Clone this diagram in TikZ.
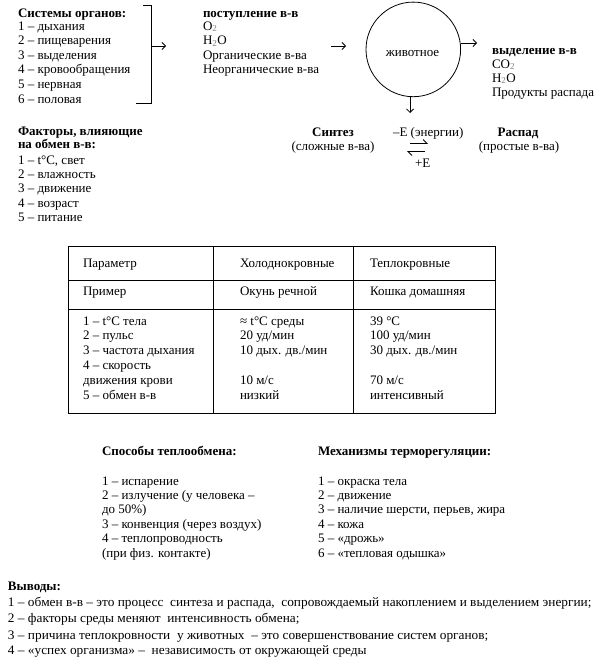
\documentclass[tikz,border=0pt]{standalone}
\usepackage{fontspec}
\setmainfont{Liberation Serif}
\newfontfamily\widef[FakeStretch=1.025]{Liberation Serif}
\usetikzlibrary{arrows.meta}
\begin{document}
\begin{tikzpicture}[x=1pt,y=-1pt,
  every node/.style={inner sep=0pt, outer sep=0pt, font=\fontsize{13}{15}\selectfont},
  txt/.style={anchor=base west},
  wtxt/.style={anchor=base west, font=\fontsize{13}{15}\widef},
  hd/.style={anchor=base west, font=\fontsize{13}{15}\selectfont\bfseries},
  hdc/.style={anchor=base, font=\fontsize{13}{15}\selectfont\bfseries},
  ctr/.style={anchor=base},
  ln/.style={line width=0.8pt},
  arr/.style={line width=0.8pt, -{Straight Barb[length=3.5pt,width=7pt]}},
  harp/.style={line width=0.8pt, -{Straight Barb[left,length=4pt,width=8pt]}}
]
\useasboundingbox (0,0) rectangle (607,664);
\newcommand{\sbs}[1]{\textsubscript{\color{gray}#1}}
% Block A
\node[hd] (sys) at (18,17) {Системы органов:};
\foreach \t [count=\i from 0] in {1 – дыхания, 2 – пищеварения, 3 – выделения, 4 – кровообращения, 5 – нервная, 6 – половая}
  \node[txt] (sys\i) at (18,{30+14.6*\i}) {\t};
\coordinate (brt) at (143,5);
\coordinate (brb) at (136,103);
\coordinate (bra) at (151,46);
\draw[ln] (brt) -- (bra |- brt) -- (bra |- brb) -- (brb);
% Block B
\node[hd] (post) at (203,17) {поступление в-в};
\node[txt] (o2) at (203,30) {O\sbs{2}};
\node[txt] (h2o) at (203,44.6) {H\sbs{2}O};
\node[txt] (org) at (203,59.2) {Органические в-ва};
\node[txt] (neorg) at (203,73.8) {Неорганические в-ва};
\coordinate (pa1) at (166,46);
\draw[arr] (bra) -- (pa1);
\coordinate (pb0) at (331,46);
\coordinate (pb1) at (346,46);
\draw[arr] (pb0) -- (pb1);
% animal
\node[circle, draw, line width=0.8pt, minimum size=94.6pt] (anim) at (413.3,49.4) {};
\node[ctr] (animt) at (412.5,56.5) {животное};
\coordinate (pc0) at (461,43);
\coordinate (pc1) at (477,43);
\draw[arr] (pc0) -- (pc1);
\coordinate (pd0) at (410,97);
\coordinate (pd1) at (410,113);
\draw[arr] (pd0) -- (pd1);
% Block C
\node[hd] (vyd) at (492,54) {выделение в-в};
\node[txt] (co2) at (492,68) {CO\sbs{2}};
\node[txt] (h2o2) at (492,82) {H\sbs{2}O};
\node[txt] (prod) at (492,96) {Продукты распада};
% Block D
\node[hd] (fak1) at (18,135) {Факторы, влияющие};
\node[hd] (fak2) at (18,148.5) {на обмен в-в:};
\foreach \t [count=\i from 0] in {{1 – t°C, свет}, 2 – влажность, 3 – движение, 4 – возраст, 5 – питание}
  \node[txt] (fak\i x) at (18,{164+14.4*\i}) {\t};
% Block E
\node[hdc] (sint) at (333,136.5) {Синтез};
\node[ctr] (sint2) at (333,150) {(сложные в-ва)};
\node[hdc] (rasp) at (518,136.5) {Распад};
\node[ctr] (rasp2) at (519,150) {(простые в-ва)};
\node[txt] (en) at (393,136.5) {–Е (энергии)};
\node[txt] (pe) at (415,167) {+Е};
\coordinate (h1a) at (410,143.5);
\coordinate (h1b) at (428,143.5);
\coordinate (h2a) at (425,151.5);
\coordinate (h2b) at (407,151.5);
\draw[harp] (h1a) -- (h1b);
\draw[harp] (h2a) -- (h2b);
% Table
\coordinate (tl) at (68,246);
\coordinate (br) at (495,413);
\draw[ln] (tl) rectangle (br);
\draw[ln] (68,280) -- (495,280);
\draw[ln] (68,309) -- (495,309);
\draw[ln] (213,246) -- (213,413);
\draw[ln] (353,246) -- (353,413);
\node[txt] (t11) at (83,267) {Параметр};
\node[txt] (t12) at (240,267) {Холоднокровные};
\node[txt] (t13) at (370,267) {Теплокровные};
\node[txt] (t21) at (83,295.5) {Пример};
\node[txt] (t22) at (240,295.5) {Окунь речной};
\node[txt] (t23) at (370,295.5) {Кошка домашняя};
\foreach \t [count=\i from 0] in {1 – t°C тела, 2 – пульс, 3 – частота дыхания, 4 – скорость, движения крови, 5 – обмен в-в}
  \node[txt] (ta\i) at (83,{325+14.9*\i}) {\t};
\foreach \t [count=\i from 0] in {≈ t°C среды, 20 уд/мин, 10 дых. дв./мин, {}, 10 м/с, низкий}
  \node[txt] (tb\i) at (240,{325+14.9*\i}) {\t};
\foreach \t [count=\i from 0] in {39 °C, 100 уд/мин, 30 дых. дв./мин, {}, 70 м/с, интенсивный}
  \node[txt] (tc\i) at (370,{325+14.9*\i}) {\t};
% Block F
\node[hd] (spos) at (102,455) {Способы теплообмена:};
\foreach \t [count=\i from 0] in {1 – испарение, 2 – излучение (у человека –, до 50\%), 3 – конвенция (через воздух), 4 – теплопроводность, (при физ. контакте)}
  \node[txt] (sp\i) at (102,{485+14.4*\i}) {\t};
% Block G
\node[hd] (mech) at (318,455) {Механизмы терморегуляции:};
\foreach \t [count=\i from 0] in {1 – окраска тела, 2 – движение, {3 – наличие шерсти, перьев, жира}, 4 – кожа, 5 – «дрожь», 6 – «тепловая одышка»}
  \node[txt] (me\i) at (318,{485+14.4*\i}) {\t};
% Block H
\node[hd] (vyv) at (8,590) {Выводы:};
\node[wtxt] (v1) at (8,606) {1 – обмен в-в – это процесс\ \ синтеза и распада,\ \ сопровождаемый накоплением и выделением энергии;};
\node[wtxt] (v2) at (8,622) {2 – факторы среды меняют\ \ интенсивность обмена;};
\node[wtxt] (v3) at (8,639) {3 – причина теплокровности\ \ у животных\ \ – это совершенствование систем органов;};
\node[wtxt] (v4) at (8,654) {4 – «успех организма» –\ \ независимость от окружающей среды};
\end{tikzpicture}
\end{document}
